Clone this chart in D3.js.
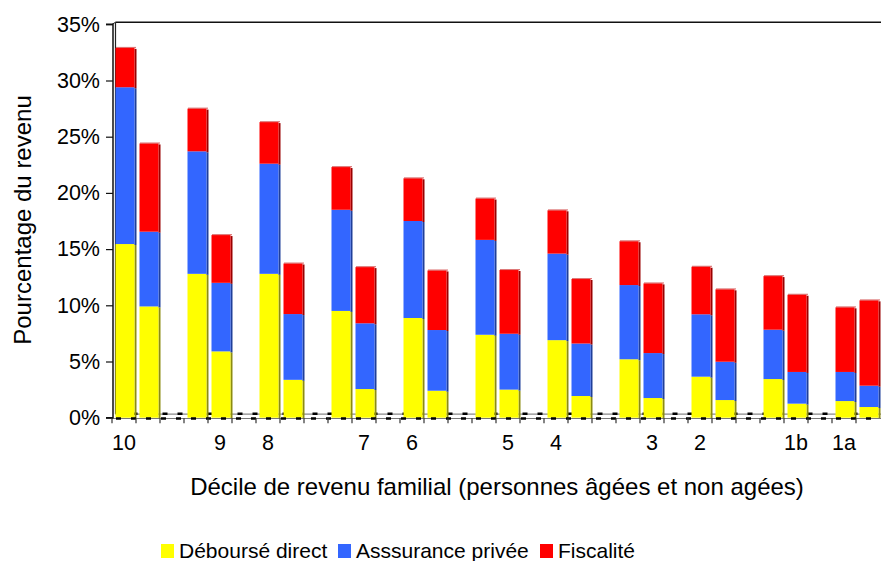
<!DOCTYPE html>
<html>
<head>
<meta charset="utf-8">
<script src="https://cdn.jsdelivr.net/npm/d3@7"></script>
<style>
  html, body { margin: 0; padding: 0; background: #fff; }
  svg { display: block; font-family: "Liberation Sans", Arial, sans-serif; }
</style>
</head>
<body>
<svg id="chart" width="881" height="561"></svg>
<script>
// Category slots along the axis (empty strings = unlabeled slots, gaps between deciles)
const categories = ["10","","","","9","","8","","","","7","","6","","","","5","","4","","","","3","","2","","","","1b","","1a",""];

// Slots that carry a bar (pairs per decile, one empty slot between pairs)
const barSlots = [0,1,3,4,6,7,9,10,12,13,15,16,18,19,21,22,24,25,27,28,30,31];

// Share of income (%) by component, one value per bar
const deboursDirect = [15.45, 9.9, 12.8, 5.9, 12.8, 3.37, 9.5, 2.55, 8.87, 2.4, 7.38, 2.5, 6.9, 1.93, 5.2, 1.75, 3.65, 1.57, 3.44, 1.25, 1.48, 0.95];
const assurancePrivee = [13.95, 6.65, 10.9, 6.1, 9.8, 5.85, 9.0, 5.85, 8.63, 5.4, 8.44, 4.97, 7.7, 4.67, 6.6, 4.0, 5.55, 3.41, 4.39, 2.82, 2.59, 1.9];
const fiscalite = [3.5, 7.85, 3.8, 4.25, 3.7, 4.5, 3.8, 5.0, 3.8, 5.3, 3.68, 5.67, 3.85, 5.74, 3.9, 6.2, 4.23, 6.44, 4.77, 6.87, 5.75, 7.59];

const yTicks = [0, 5, 10, 15, 20, 25, 30, 35];
const seriesNames = ["Déboursé direct", "Asssurance privée", "Fiscalité"];
const seriesKeys = ["direct", "privee", "fisc"];
const colors = ["#FFFF00", "#3366FF", "#FF0000"];
const sideColors = ["#8C8C10", "#1F3F9A", "#9A0000"];

const rows = barSlots.map((s, i) => ({
  slot: s,
  direct: deboursDirect[i],
  privee: assurancePrivee[i],
  fisc: fiscalite[i]
}));

const svg = d3.select("#chart");

const x = d3.scaleBand()
  .domain(d3.range(categories.length))
  .range([112, 880])
  .paddingInner(0).paddingOuter(0);

const y = d3.scaleLinear().domain([0, 35]).range([417.7, 24.3]);

const depth = 3.5; // small 3D offset of the plot's back wall

// Back wall edges
svg.append("line").attr("x1", x.range()[0] + depth).attr("x2", 881)
  .attr("y1", y(35) - 2).attr("y2", y(35) - 2)
  .attr("stroke", "#111").attr("stroke-width", 1.5);
svg.append("line").attr("x1", x.range()[0] + depth).attr("x2", x.range()[0] + depth)
  .attr("y1", y(35) - 2).attr("y2", y(0) - depth)
  .attr("stroke", "#222").attr("stroke-width", 1.2);
svg.append("line").attr("x1", x.range()[0]).attr("x2", x.range()[0] + depth)
  .attr("y1", y(35)).attr("y2", y(35) - 2)
  .attr("stroke", "#222").attr("stroke-width", 1);

// Floor back edge (gray) and dashed zero line behind the bars
svg.append("line").attr("x1", x.range()[0] + depth).attr("x2", 881)
  .attr("y1", y(0) - depth).attr("y2", y(0) - depth)
  .attr("stroke", "#888").attr("stroke-width", 1.2);
svg.append("line").attr("x1", x.range()[0] + depth + 2).attr("x2", 881)
  .attr("y1", y(0) - depth - 0.5).attr("y2", y(0) - depth - 0.5)
  .attr("stroke", "#000").attr("stroke-width", 2.5)
  .attr("stroke-dasharray", "5,10");

// Stacked bars
const stack = d3.stack().keys(seriesKeys);
const layers = stack(rows);
const barW = x.bandwidth() - 4;
const barX = d => x(d.data.slot) + 3.5;

layers.forEach((layer, li) => {
  const g = svg.append("g").attr("class", "series-" + seriesKeys[li]);
  // darker right side face
  g.selectAll("rect.side").data(layer).join("rect")
    .attr("class", "side")
    .attr("x", d => barX(d) + barW - 1)
    .attr("y", d => y(d[1]) + 1)
    .attr("width", 2)
    .attr("height", d => y(d[0]) - y(d[1]))
    .attr("fill", sideColors[li]);
  g.selectAll("rect.face").data(layer).join("rect")
    .attr("class", "face")
    .attr("x", d => barX(d))
    .attr("y", d => y(d[1]))
    .attr("width", barW - 1)
    .attr("height", d => y(d[0]) - y(d[1]))
    .attr("fill", colors[li]);
  if (li === layers.length - 1) {
    g.selectAll("rect.top").data(layer).join("rect")
      .attr("class", "top")
      .attr("x", d => barX(d) + 0.5)
      .attr("y", d => y(d[1]) - 1)
      .attr("width", barW)
      .attr("height", 1.2)
      .attr("fill", "#D04040").attr("opacity", 0.7);
  }
});

// Front floor edge and dashed zero line
svg.append("line").attr("x1", x.range()[0]).attr("x2", 881)
  .attr("y1", y(0) + 0.8).attr("y2", y(0) + 0.8)
  .attr("stroke", "#777").attr("stroke-width", 1);
svg.append("line").attr("x1", x.range()[0] + 4).attr("x2", 881)
  .attr("y1", y(0) + 0.8).attr("y2", y(0) + 0.8)
  .attr("stroke", "#000").attr("stroke-width", 2.5)
  .attr("stroke-dasharray", "5,10");

// Y axis
const yAxis = d3.axisLeft(y).tickValues(yTicks).tickFormat(d => d + "%").tickSize(7).tickPadding(6);
const gy = svg.append("g").attr("transform", `translate(${x.range()[0] + 1},0)`).call(yAxis);
gy.select(".domain").attr("stroke", "#111").attr("stroke-width", 1.5).attr("d", `M-7,${y(35)}H0V${y(0)}H-7`);
gy.selectAll(".tick line").attr("stroke", "#111").attr("stroke-width", 1.2);
gy.selectAll(".tick text").attr("font-size", 21.5).attr("fill", "#000")
  .attr("font-family", "Liberation Sans, Arial, sans-serif");

// X axis: tick marks at slot boundaries, labels centered in their slot
const xAxis = d3.axisBottom(x).tickFormat(i => categories[i]).tickSize(5).tickPadding(12);
const gx = svg.append("g").attr("transform", `translate(0,${y(0) + 0.5})`).call(xAxis);
gx.select(".domain").remove();
gx.selectAll(".tick line").attr("x1", -x.bandwidth() / 2).attr("x2", -x.bandwidth() / 2)
  .attr("stroke", "#333").attr("stroke-width", 1.2);
gx.selectAll(".tick text").attr("font-size", 21.5).attr("fill", "#000")
  .attr("font-family", "Liberation Sans, Arial, sans-serif");

// Axis titles
svg.append("text")
  .attr("transform", "translate(31,220) rotate(-90)")
  .attr("text-anchor", "middle")
  .attr("font-size", 24).attr("fill", "#000")
  .text("Pourcentage du revenu");

svg.append("text")
  .attr("x", 497).attr("y", 495)
  .attr("text-anchor", "middle")
  .attr("font-size", 24).attr("fill", "#000")
  .text("Décile de revenu familial (personnes âgées et non agées)");

// Legend
const legendX = [161, 338, 540];
const legend = svg.append("g");
seriesNames.forEach((name, i) => {
  legend.append("rect").attr("x", legendX[i]).attr("y", 544).attr("width", 13).attr("height", 14)
    .attr("fill", colors[i]);
  legend.append("text").attr("x", legendX[i] + 18).attr("y", 558)
    .attr("font-size", 21).attr("fill", "#000").text(name);
});
</script>
</body>
</html>
